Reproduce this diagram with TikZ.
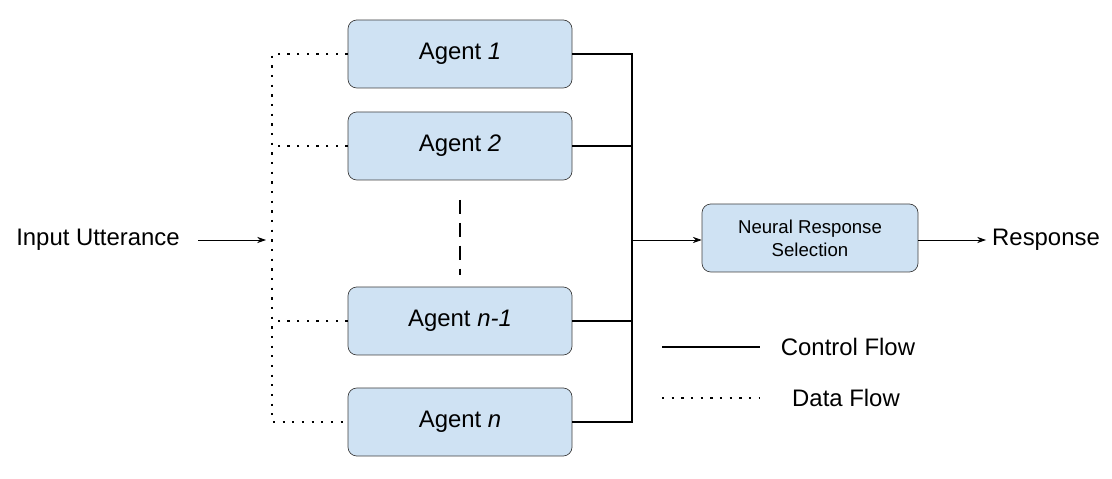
\documentclass[tikz,border=0pt]{standalone}
\usepackage{fontspec}
\setmainfont{Liberation Sans}
\usetikzlibrary{arrows.meta}
\begin{document}
\begin{tikzpicture}[x=0.02cm,y=-0.02cm,
 box/.style={draw=black!75,fill=boxc,rounded corners=5pt,minimum width=224*0.02cm,minimum height=68*0.02cm,font=\fontsize{13.6}{15}\selectfont},
 ctrl/.style={line width=1.3pt},
 data/.style={line width=1.3pt,dash pattern=on 1.3pt off 4.2pt},
 arr/.style={-{Stealth[length=5pt,width=3.5pt]},line width=0.4pt},
 lbl/.style={font=\fontsize{13.6}{15}\selectfont}]
\definecolor{boxc}{HTML}{CFE2F3}
\useasboundingbox (0,0) rectangle (1112,479);
\node[box] (a1) at (460,54) {Agent \textit{1}};
\node[box] (a2) at (460,146) {Agent \textit{2}};
\node[box] (an1) at (460,321) {Agent \textit{n-1}};
\node[box] (an) at (460,422) {Agent \textit{n}};
\node[box,minimum width=216*0.02cm,font=\fontsize{10.6}{13}\selectfont,align=center] (nrs) at (810,238) {Neural Response\\Selection};
\node[lbl] (in) at (98,240) {Input Utterance};
\node[lbl,anchor=west] (resp) at (986,240) {Response};
\coordinate (bt) at (632,54); \coordinate (bb) at (632,422);
\coordinate (dt) at (272,54); \coordinate (db) at (272,422);
\coordinate (bm) at (632,240); \coordinate (dm) at (266,240);
\coordinate (is) at (198,240); \coordinate (ne) at (918,240);
\draw[ctrl] (a1.east) -- (bt) -- (bb) -- (an.east);
\draw[ctrl] (a2.east) -- (a2.east -| bt);
\draw[ctrl] (an1.east) -- (an1.east -| bt);
\draw[data] (a1.west) -- (dt) -- (db) -- (an.west);
\draw[data] (a2.west) -- (a2.west -| dt);
\draw[data] (an1.west) -- (an1.west -| dt);
\draw[line width=1.3pt,dash pattern=on 8pt off 5pt] (460,200) -- (460,275);
\draw[arr] (is) -- (dm);
\draw[arr] (bm) -- (bm -| nrs.west);
\draw[arr] (ne) -- (ne -| resp.west);
\coordinate (l1a) at (662,347); \coordinate (l1b) at (760,347);
\coordinate (l2a) at (662,398); \coordinate (l2b) at (760,398);
\draw[ctrl] (l1a) -- (l1b);
\draw[data] (l2a) -- (l2b);
\node[lbl] (cf) at (848,347) {Control Flow};
\node[lbl] (df) at (846,398) {Data Flow};
\end{tikzpicture}
\end{document}
